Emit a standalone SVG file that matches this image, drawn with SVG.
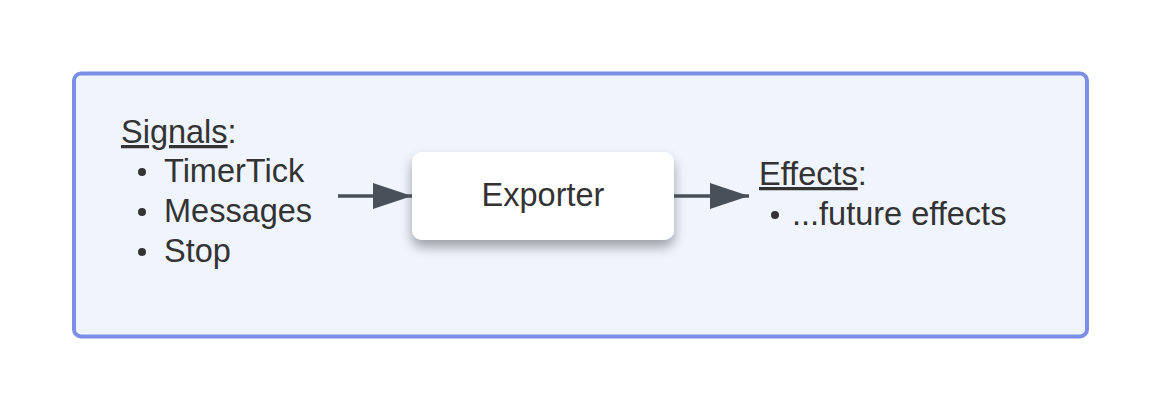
<svg xmlns="http://www.w3.org/2000/svg" width="1163" height="413" viewBox="0 0 1163 413">
<defs>
<filter id="sh" x="-20%" y="-30%" width="140%" height="180%">
<feDropShadow dx="0" dy="7" stdDeviation="6" flood-color="#000" flood-opacity="0.35"/>
</filter>
<marker id="ah" markerUnits="userSpaceOnUse" markerWidth="40" markerHeight="26" refX="39" refY="13" orient="auto">
<path d="M0,0 L39,13 L0,26 Z" fill="#4a5059"/>
</marker>
<style>
text{font-family:"Liberation Sans",Arial,sans-serif;font-size:32.5px;fill:#333;}
.u{text-decoration:underline;}
.c{fill:none;stroke:#4a5059;stroke-width:3.5;}
.b{fill:#333;}
</style>
</defs>
<rect width="1163" height="413" fill="#fff"/>
<g id="container">
<rect x="74" y="73.5" width="1013" height="263" rx="7" fill="#eff4fd" stroke="#7b8fe6" stroke-width="4"/>
</g>
<g id="signals">
<text x="121" y="143"><tspan class="u">Signals</tspan>:</text>
<circle class="b" cx="142" cy="172" r="4"/>
<text x="164" y="182">TimerTick</text>
<circle class="b" cx="142" cy="212" r="4"/>
<text x="164" y="222">Messages</text>
<circle class="b" cx="142" cy="252" r="4"/>
<text x="164" y="262">Stop</text>
</g>
<g id="exporter">
<rect x="412" y="152" width="262" height="88" rx="10" fill="#fff" filter="url(#sh)"/>
<text x="543" y="206" text-anchor="middle">Exporter</text>
</g>
<g id="effects">
<text x="759" y="185"><tspan class="u">Effects</tspan>:</text>
<circle class="b" cx="775" cy="215" r="4"/>
<text x="792" y="225">...future effects</text>
</g>
<g id="connectors">
<path class="c" d="M338,196 L412,196" marker-end="url(#ah)"/>
<path class="c" d="M674,196 L749,196" marker-end="url(#ah)"/>
</g>
</svg>
